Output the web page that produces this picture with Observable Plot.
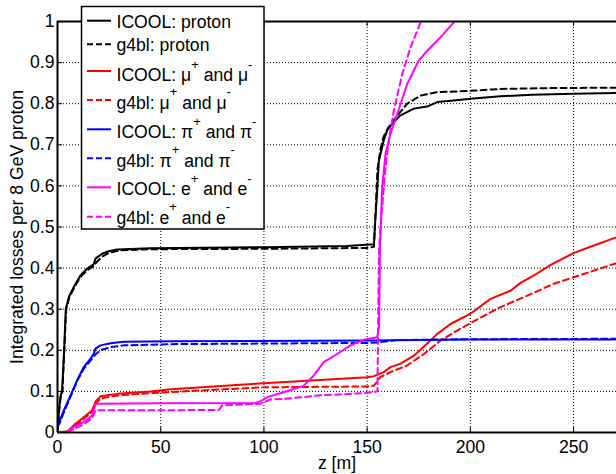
<!DOCTYPE html>
<html>
<head>
<meta charset="utf-8">
<script src="https://cdn.jsdelivr.net/npm/d3@7"></script>
<script src="https://cdn.jsdelivr.net/npm/@observablehq/plot@0.6"></script>
<style>
  html, body { margin: 0; padding: 0; background: #fff; }
  #wrap { position: relative; width: 616px; height: 474px; font-family: "Liberation Sans", Arial, Helvetica, sans-serif; }
  #legend { position: absolute; left: 0; top: 0; }
</style>
</head>
<body>
<div id="wrap"></div>
<script>
// ---- data (z [m], integrated losses per 8 GeV proton) ----
const xTicks = [0, 50, 100, 150, 200, 250];
const yTicks = [0, 0.1, 0.2, 0.3, 0.4, 0.5, 0.6, 0.7, 0.8, 0.9, 1];

const icoolProton = [[0,0],[0.8,0.06],[1.5,0.09],[2.2,0.1],[3.2,0.2],[4,0.3],[5.5,0.33],[7.9,0.354],[11.1,0.382],[14.4,0.399],[17.6,0.41],[18.4,0.423],[21.6,0.435],[24.8,0.441],[28.9,0.445],[45,0.448],[100,0.451],[140,0.454],[153.3,0.458],[154,0.52],[155,0.6],[155.7,0.662],[156.5,0.678],[158,0.71],[159.7,0.735],[162.8,0.755],[166,0.771],[172.6,0.788],[179,0.793],[184,0.804],[192,0.808],[200,0.812],[214.6,0.818],[230,0.822],[250,0.824],[271,0.826]];
const g4blProton = [[0,0],[0.8,0.05],[1.5,0.085],[2.4,0.1],[3.3,0.2],[4.2,0.3],[5.8,0.33],[8,0.352],[11,0.378],[14.4,0.395],[17.6,0.405],[19,0.415],[21.6,0.428],[25,0.437],[30,0.443],[45,0.446],[100,0.447],[150,0.449],[153.3,0.452],[154.2,0.55],[155,0.64],[156.5,0.69],[158,0.72],[160,0.74],[164.6,0.771],[169.4,0.8],[176,0.82],[184,0.828],[198.5,0.831],[214.6,0.836],[240,0.838],[271,0.839]];
const icoolMuon = [[0,0],[5,0.003],[7.9,0.018],[10,0.026],[12.7,0.037],[16.8,0.054],[18.4,0.075],[20.8,0.088],[28.9,0.094],[45,0.1],[55,0.105],[100,0.12],[150,0.1346],[153.3,0.137],[158,0.147],[161.3,0.159],[166,0.167],[172.6,0.187],[179,0.216],[184,0.24],[190.4,0.264],[198.5,0.285],[200,0.289],[209.8,0.325],[219.5,0.345],[224.3,0.364],[230.8,0.382],[238.9,0.408],[250.2,0.437],[259.8,0.455],[270.8,0.475]];
const g4blMuon = [[0,0],[5,0.002],[7.9,0.014],[10,0.022],[12.7,0.033],[16.8,0.05],[18.4,0.068],[20.8,0.083],[28.9,0.09],[45,0.096],[100,0.11],[150,0.112],[153.3,0.114],[156.5,0.135],[161.3,0.147],[169.4,0.163],[177.5,0.191],[185.6,0.224],[193.6,0.248],[204,0.277],[214.6,0.305],[227.6,0.333],[240.5,0.362],[250.2,0.378],[270.8,0.412]];
const icoolPion = [[0,0.02],[1,0.027],[3,0.053],[6.3,0.09],[9.5,0.127],[12.7,0.159],[16,0.18],[17.6,0.192],[18.4,0.204],[20.8,0.212],[25.7,0.217],[32,0.221],[55,0.222],[150,0.224],[200,0.226],[271,0.226]];
const g4blPion = [[0,0.015],[1,0.022],[3,0.048],[6.3,0.087],[9.5,0.125],[12.7,0.155],[16,0.175],[18.4,0.19],[20.8,0.2],[25.7,0.208],[32,0.212],[55,0.215],[150,0.218],[155,0.219],[165,0.225],[200,0.227],[271,0.228]];
const icoolElectron = [[0,0],[5,0.002],[7.9,0.013],[12.7,0.025],[16.8,0.041],[18.4,0.07],[50,0.071],[96,0.072],[98.4,0.076],[101.6,0.086],[109.6,0.098],[119.3,0.114],[124.2,0.139],[129,0.171],[135.5,0.191],[142,0.212],[148.4,0.226],[154.9,0.232],[155.8,0.26],[156.2,0.451],[157.3,0.597],[158.9,0.678],[161.3,0.727],[164.6,0.775],[169.4,0.848],[175,0.905],[179.1,0.929],[185.6,0.962],[192,0.998],[193,1.01]];
const g4blElectron = [[0,0],[5,0.001],[8,0.008],[12.7,0.02],[16.8,0.035],[18.4,0.054],[50,0.054],[78.2,0.055],[79.8,0.066],[98.4,0.07],[103,0.08],[109.6,0.082],[119.3,0.086],[125.8,0.09],[142,0.094],[153.3,0.098],[155,0.1],[155.4,0.3],[155.8,0.45],[157.3,0.55],[158.9,0.645],[160.5,0.71],[162.9,0.783],[167,0.872],[171,0.937],[175.9,0.998],[176.5,1.01]];

const seriesData = [icoolProton, g4blProton, icoolMuon, g4blMuon, icoolPion, g4blPion, icoolElectron, g4blElectron];
const seriesColors = ["#000000", "#000000", "#ff0000", "#ff0000", "#0000ff", "#0000ff", "#ff00ff", "#ff00ff"];
const seriesDashed = [false, true, false, true, false, true, false, true];
const legendCode = ["ICOOL", "g4bl", "ICOOL", "g4bl", "ICOOL", "g4bl", "ICOOL", "g4bl"];
const legendParticle = [["proton"], ["proton"], ["μ", "+", "μ", "-"], ["μ", "+", "μ", "-"], ["π", "+", "π", "-"], ["π", "+", "π", "-"], ["e", "+", "e", "-"], ["e", "+", "e", "-"]];

const FONT = '"Liberation Sans", Arial, Helvetica, sans-serif';
const FS = 17.6;

const lineMarks = seriesData.map((d, i) => Plot.line(d, {
  x: p => p[0], y: p => p[1],
  stroke: seriesColors[i], strokeWidth: 2,
  strokeDasharray: seriesDashed[i] ? "6,4" : null,
  clip: true
}));

const chart = Plot.plot({
  width: 616, height: 474,
  marginLeft: 57, marginRight: 0, marginTop: 21, marginBottom: 42,
  style: { fontFamily: FONT, fontSize: FS + "px", background: "white", color: "black", overflow: "visible" },
  x: { domain: [0, 270.8] },
  y: { domain: [0, 1] },
  marks: [
    Plot.gridX(xTicks.slice(1), { stroke: "black", strokeOpacity: 1, strokeWidth: 1, strokeDasharray: "1,2" }),
    Plot.gridY(yTicks.slice(1, -1), { stroke: "black", strokeOpacity: 1, strokeWidth: 1, strokeDasharray: "1,2" }),
    ...lineMarks,
    Plot.ruleX(xTicks, { y1: 0, y2: 0.012, stroke: "black", strokeWidth: 1 }),
    Plot.ruleX(xTicks, { y1: 0.988, y2: 1, stroke: "black", strokeWidth: 1 }),
    Plot.ruleY(yTicks, { x1: 0, x2: 2.4, stroke: "black", strokeWidth: 1 }),
    Plot.ruleX([0], { stroke: "black", strokeWidth: 2 }),
    Plot.ruleY([0, 1], { stroke: "black", strokeWidth: 2 }),
    Plot.axisX(xTicks, { tickSize: 0, tickPadding: 8, label: null, fontSize: FS, tickFormat: d => String(d) }),
    Plot.axisY(yTicks, { tickSize: 0, tickPadding: 3, label: null, fontSize: FS, tickFormat: d => String(d) }),
    Plot.text(["z [m]"], { frameAnchor: "bottom", lineAnchor: "middle", textAnchor: "middle", dy: 31, fontSize: FS }),
    Plot.text(["Integrated losses per 8 GeV proton"], { frameAnchor: "left", textAnchor: "middle", lineAnchor: "middle", rotate: -90, dx: -40, fontSize: FS })
  ]
});

const wrap = document.getElementById("wrap");
wrap.appendChild(chart);

// ---- legend overlay ----
const lineYs = [20.7, 44.3, 71, 100, 129.3, 158.3, 187.3, 216.7];
const baseYs = [27.8, 50.8, 81, 108.6, 138.3, 166.8, 195.2, 223.5];
const svg = d3.select(wrap).append("svg")
  .attr("id", "legend").attr("width", 616).attr("height", 474)
  .style("font-family", FONT).style("font-size", FS + "px");
svg.append("rect").attr("x", 81.5).attr("y", 6.5).attr("width", 182.5).attr("height", 222.5)
  .attr("fill", "white").attr("stroke", "black").attr("stroke-width", 1.5);
legendCode.forEach((code, i) => {
  svg.append("line").attr("x1", 87).attr("x2", 111).attr("y1", lineYs[i]).attr("y2", lineYs[i])
    .attr("stroke", seriesColors[i]).attr("stroke-width", 2)
    .attr("stroke-dasharray", seriesDashed[i] ? "6,3" : null);
  const t = svg.append("text").attr("x", 116.5).attr("y", baseYs[i]).attr("fill", "black");
  const p = legendParticle[i];
  if (p.length === 1) {
    t.append("tspan").text(code + ": " + p[0]);
  } else {
    t.append("tspan").text(code + ": " + p[0]);
    t.append("tspan").attr("dy", -12.5).attr("font-size", "13px").text(p[1]);
    t.append("tspan").attr("dy", 12.5).text(" and " + p[2]);
    t.append("tspan").attr("dy", -12.5).attr("font-size", "13px").text(p[3]);
  }
});
</script>
</body>
</html>
